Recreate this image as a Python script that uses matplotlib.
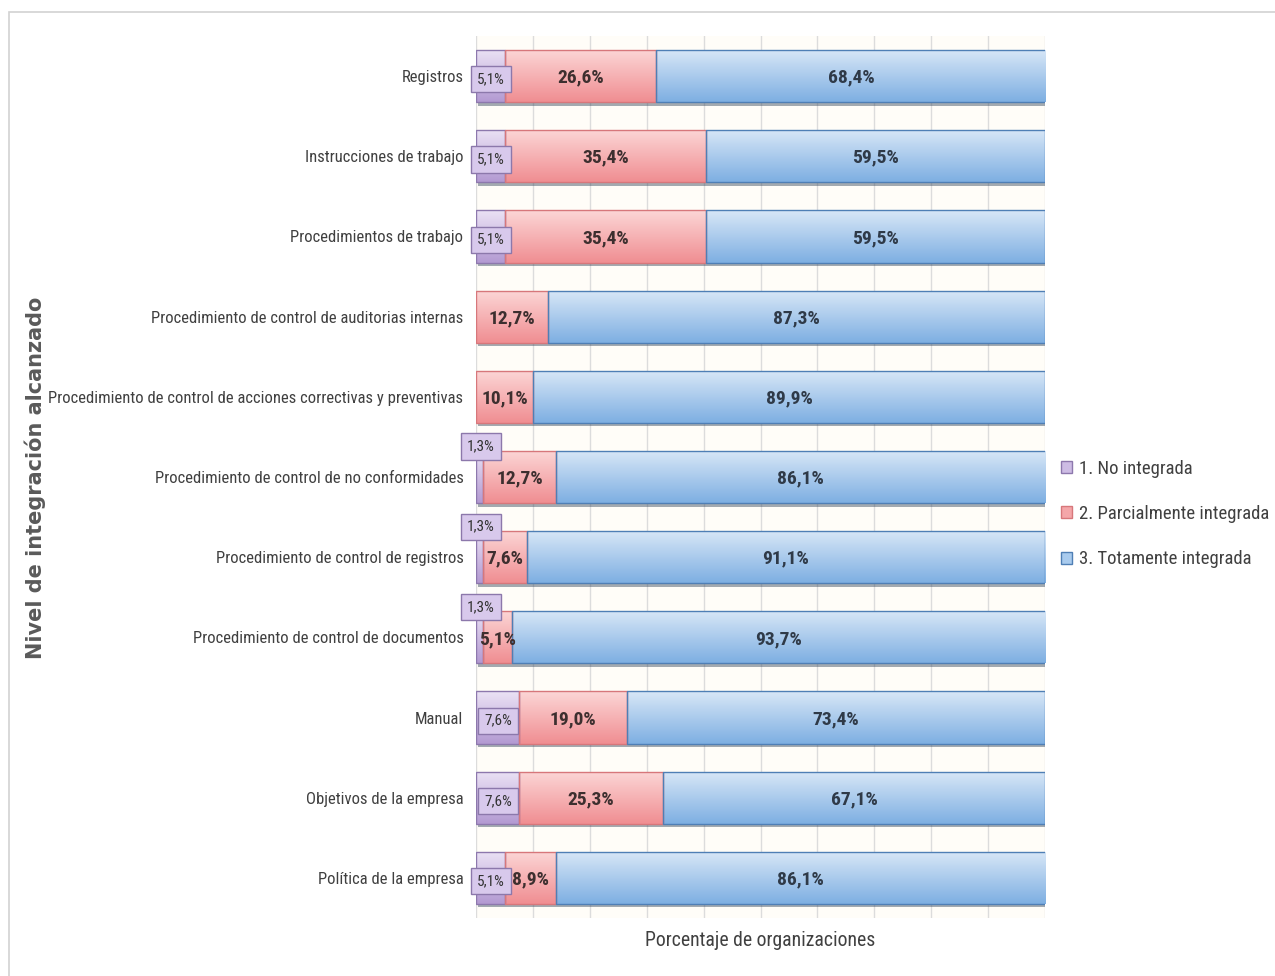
import matplotlib
matplotlib.use("Agg")
import matplotlib.pyplot as plt
import numpy as np
from matplotlib import patheffects as pe
from matplotlib.colors import LinearSegmentedColormap
from matplotlib.patches import Patch, Rectangle

# ---- data (top to bottom) ----
categories = [
    "Registros",
    "Instrucciones de trabajo",
    "Procedimientos de trabajo",
    "Procedimiento de control de auditorias internas",
    "Procedimiento de control de acciones correctivas y preventivas",
    "Procedimiento de control de no conformidades",
    "Procedimiento de control de registros",
    "Procedimiento de control de documentos",
    "Manual",
    "Objetivos de la empresa",
    "Política de la empresa",
]
no_integrada = [5.1, 5.1, 5.1, 0.0, 0.0, 1.3, 1.3, 1.3, 7.6, 7.6, 5.1]
parcial = [26.6, 35.4, 35.4, 12.7, 10.1, 12.7, 7.6, 5.1, 19.0, 25.3, 8.9]
total = [68.4, 59.5, 59.5, 87.3, 89.9, 86.1, 91.1, 93.7, 73.4, 67.1, 86.1]
series_names = ["1. No integrada", "2. Parcialmente integrada", "3. Totamente integrada"]

NARROW = ["Roboto Condensed", "PT Sans Narrow", "Liberation Sans", "DejaVu Sans"]
plt.rcParams["font.family"] = NARROW

styles = [
    dict(top="#ebe2f5", bottom="#b39ad2", edge="#8d78ad", txt="#333333"),
    dict(top="#fcd6d6", bottom="#f08e92", edge="#d7777b", txt="#3d2f2f"),
    dict(top="#d8e7f7", bottom="#7eafe2", edge="#4f7fb5", txt="#2f3a48"),
]


def fmt(v):
    return f"{v:.1f}%".replace(".", ",")


fig = plt.figure(figsize=(12.75, 9.76), dpi=100)
fig.patch.set_facecolor("white")

# thin frame around the chart area
fig.add_artist(Rectangle((9 / 1275, -0.05), 1.2, 1.05 - 12 / 976,
                         transform=fig.transFigure, fill=False,
                         edgecolor="#d2d2d2", linewidth=1.2))

ax = fig.add_axes([476 / 1275, 1 - 918 / 976, 569 / 1275, 882 / 976])
ax.set_facecolor("#fffdf8")

n = len(categories)
ypos = np.arange(n)[::-1].astype(float)
height = 0.65
grad = np.linspace(0, 1, 64).reshape(-1, 1)
shadow = [pe.SimplePatchShadow(offset=(1.5, -2.5), shadow_rgbFace="#34465a", alpha=0.45),
          pe.Normal()]

left = np.zeros(n)
for vals, st in zip([no_integrada, parcial, total], styles):
    vals = np.asarray(vals, dtype=float)
    keep = vals > 0
    bars = ax.barh(ypos[keep], vals[keep], left=left[keep], height=height,
                   color=st["bottom"], edgecolor="none", zorder=2, path_effects=shadow)
    cmap = LinearSegmentedColormap.from_list("g", [st["bottom"], st["top"]])
    for b in bars:
        x0, y0, w, h = b.get_x(), b.get_y(), b.get_width(), b.get_height()
        im = ax.imshow(grad, cmap=cmap, origin="lower", aspect="auto",
                       extent=(x0, x0 + w, y0, y0 + h), zorder=2.5,
                       interpolation="bilinear")
        im.set_clip_path(b)
    ax.barh(ypos[keep], vals[keep], left=left[keep], height=height, fill=False,
            edgecolor=st["edge"], linewidth=1.0, zorder=3)
    left = left + vals

# ---- value labels ----
starts_red = np.asarray(no_integrada)
starts_blue = starts_red + np.asarray(parcial)
for i in range(n):
    y = ypos[i]
    v1, v2, v3 = no_integrada[i], parcial[i], total[i]
    # partially integrated / fully integrated
    ax.text(starts_red[i] + v2 / 2, y - 0.02, fmt(v2), ha="center", va="center",
            fontsize=14, fontweight="bold", color=styles[1]["txt"], zorder=6)
    ax.text(starts_blue[i] + v3 / 2, y - 0.02, fmt(v3), ha="center", va="center",
            fontsize=14, fontweight="bold", color=styles[2]["txt"], zorder=6)
    # not integrated: boxed label
    if v1 <= 0:
        continue
    box = dict(boxstyle="square,pad=0.4", fc="#d8c9ec", ec="#8c78ab", lw=1.0)
    if v1 >= 3:
        ax.text(v1 / 2 + 0.1, y - 0.04, fmt(v1), ha="center", va="center", fontsize=11,
                color="#333333", bbox=box, zorder=7)
    else:
        ax.annotate(fmt(v1), xy=(v1 / 2 + 0.2, y), xytext=(0, 22),
                    textcoords="offset points", ha="center", va="center",
                    fontsize=11, color="#333333", bbox=box, zorder=7,
                    annotation_clip=False)

# ---- axes styling ----
ax.set_xlim(0, 100)
ax.set_ylim(-0.5, n - 0.5)
ax.set_xticks(np.arange(0, 101, 10))
ax.tick_params(axis="x", length=0, labelbottom=False)
ax.grid(axis="x", color="#dcdcdc", linewidth=1.0)
ax.set_axisbelow(True)
for s in ax.spines.values():
    s.set_visible(False)

ax.set_yticks(ypos)
ax.set_yticklabels(categories)
ax.tick_params(axis="y", length=0, pad=9, labelsize=12, labelcolor="#404040")
for lbl in ax.get_yticklabels():
    lbl.set_fontfamily(NARROW)

fig.text(760 / 1275, 1 - 940 / 976, "Porcentaje de organizaciones", ha="center",
         va="center", fontsize=14.2, color="#404040")
fig.text(35 / 1275, 1 - 478 / 976, "Nivel de integración alcanzado", rotation=90,
         ha="center", va="center", fontsize=15, fontweight="bold",
         family=["DejaVu Sans"], color="#5a5a5a")

handles = [Patch(facecolor=c, edgecolor=st["edge"], linewidth=1.0)
           for c, st in zip(["#cdbce4", "#f4a6a9", "#a9cbee"], styles)]
fig.legend(handles, series_names, loc="center left",
           bbox_to_anchor=(1044 / 1275, 1 - 514 / 976), frameon=False,
           fontsize=13.5, handlelength=0.6, handleheight=0.6, handletextpad=0.35,
           labelspacing=1.45, labelcolor="#404040")

fig.savefig("out.png", dpi=100)
